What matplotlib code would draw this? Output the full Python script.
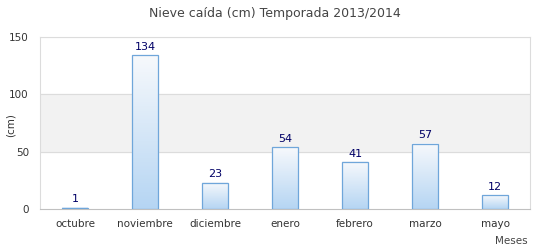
import numpy as np
import matplotlib.pyplot as plt
from matplotlib.colors import LinearSegmentedColormap

meses = ["octubre", "noviembre", "diciembre", "enero", "febrero", "marzo", "mayo"]
nieve = [1, 134, 23, 54, 41, 57, 12]

fig = plt.figure(figsize=(5.5, 2.5), dpi=100)
ax = fig.add_axes([0.0727, 0.164, 0.891, 0.688])

x = np.arange(len(meses))
width = 0.36

# banda sombreada y rejilla
ax.axhspan(50, 100, color="#f2f2f2", zorder=0)
for y in (50, 100, 150):
    ax.axhline(y, color="#dcdcdc", lw=0.8, zorder=1)

cmap = LinearSegmentedColormap.from_list("g", ["#b5d5f3", "#f7f9fc"])
grad = np.linspace(0, 1, 256).reshape(-1, 1)

bars = ax.bar(x, nieve, width=width, facecolor="none", edgecolor="#6fa6da", lw=0.9, zorder=3)
for b in bars:
    x0, y0 = b.get_x(), b.get_y()
    ax.imshow(grad, cmap=cmap, origin="lower", aspect="auto",
              extent=(x0, x0 + b.get_width(), y0, y0 + b.get_height()), zorder=2)

for xi, v in zip(x, nieve):
    ax.text(xi, v + 3, str(v), ha="center", va="bottom", fontsize=8, color="#000066", zorder=4)

ax.set_xlim(-0.5, len(meses) - 0.5)
ax.set_ylim(0, 150)
ax.set_yticks([0, 50, 100, 150])
ax.set_xticks(x)
ax.set_xticklabels(meses)
ax.tick_params(length=0, labelsize=7.5, labelcolor="#333333", pad=7)
ax.tick_params(axis="y", pad=8)

for s in ax.spines.values():
    s.set_color("#dcdcdc")
    s.set_linewidth(0.8)
ax.spines["bottom"].set_color("#c0c0c0")

fig.text(0.02, 0.5, "(cm)", rotation=90, ha="center", va="center", fontsize=7.5, color="#333333")
fig.text(0.5, 0.945, "Nieve caída (cm) Temporada 2013/2014", ha="center", va="center",
         fontsize=9, color="#444444")
fig.text(0.96, 0.035, "Meses", ha="right", va="center", fontsize=7.5, color="#444444")

fig.savefig("out.png", dpi=100)
